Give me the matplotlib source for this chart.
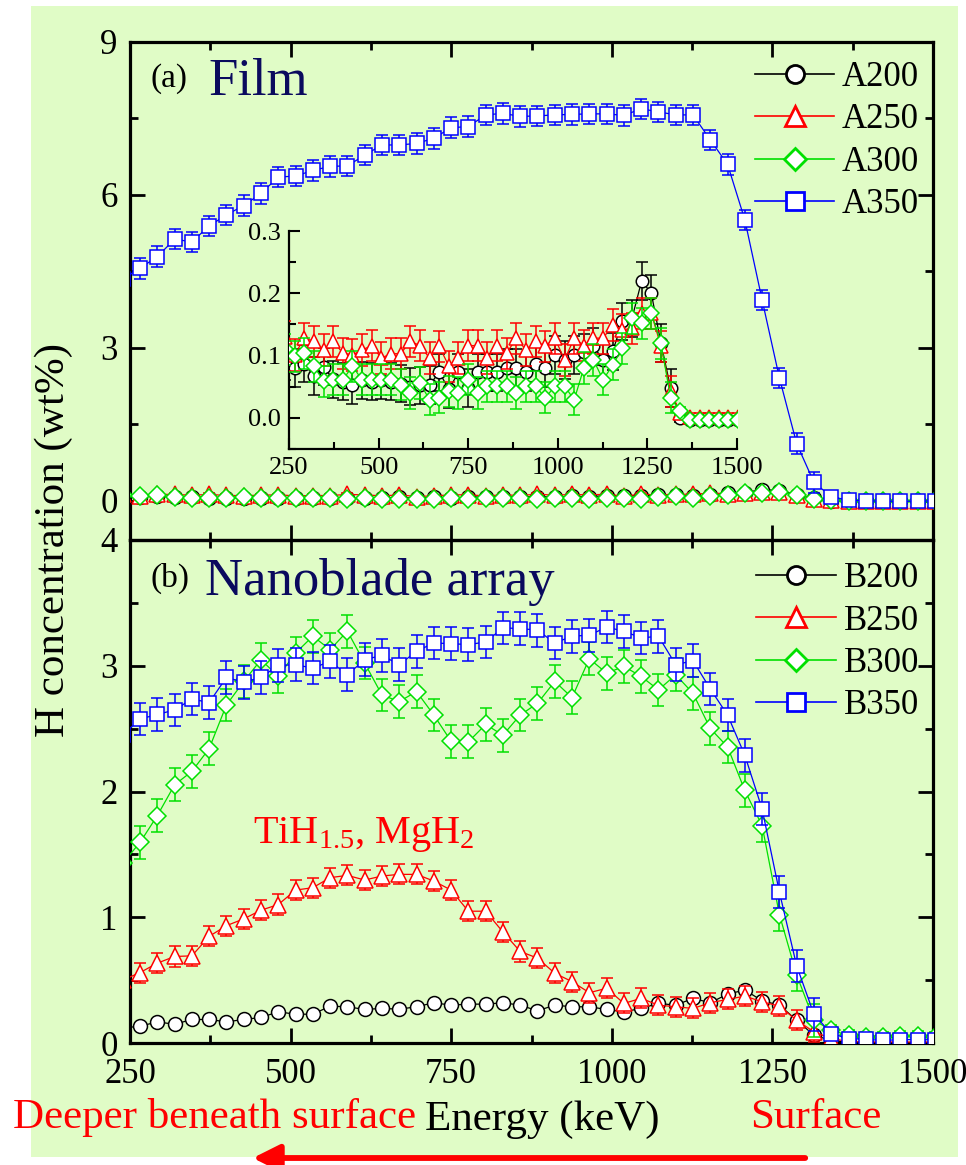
import numpy as np
import matplotlib
matplotlib.use("Agg")
import matplotlib.pyplot as plt
from matplotlib.lines import Line2D
from matplotlib.patches import Rectangle, FancyArrowPatch
from matplotlib.ticker import MultipleLocator, FormatStrFormatter

plt.rcParams['font.family'] = ['Liberation Serif', 'DejaVu Serif']
plt.rcParams['mathtext.fontset'] = 'custom'
plt.rcParams['mathtext.rm'] = 'Liberation Serif'
plt.rcParams['mathtext.default'] = 'regular'

# ---------------- data ----------------
energy = [238.7, 265.6, 292.5, 319.4, 346.3, 373.2, 400.1, 427.0, 453.9, 480.8,
          507.7, 534.6, 561.5, 588.4, 615.3, 642.2, 669.1, 696.0, 722.9, 749.8,
          776.7, 803.6, 830.5, 857.4, 884.3, 911.2, 938.1, 965.0, 991.9, 1018.8,
          1045.7, 1072.6, 1099.5, 1126.4, 1153.3, 1180.2, 1207.1, 1234.0, 1260.9, 1287.8,
          1314.7, 1341.6, 1368.5, 1395.4, 1422.3, 1449.2, 1476.1, 1503.0]

A200 = [0.090, 0.080, 0.087, 0.067, 0.082, 0.062, 0.058, 0.053, 0.060, 0.058,
        0.060, 0.058, 0.055, 0.050, 0.052, 0.053, 0.073, 0.046, 0.073, 0.048,
        0.073, 0.073, 0.073, 0.080, 0.080, 0.073, 0.087, 0.080, 0.101, 0.093,
        0.101, 0.105, 0.115, 0.093, 0.107, 0.155, 0.160, 0.220, 0.200, 0.120,
        0.048, 0.000, -0.003, -0.003, -0.003, -0.003, -0.003, -0.003]
A250 = [0.130, 0.101, 0.128, 0.123, 0.109, 0.123, 0.104, 0.101, 0.109, 0.116,
        0.096, 0.103, 0.103, 0.123, 0.116, 0.096, 0.115, 0.083, 0.096, 0.116,
        0.116, 0.096, 0.116, 0.104, 0.128, 0.109, 0.123, 0.115, 0.128, 0.093,
        0.128, 0.116, 0.128, 0.128, 0.149, 0.141, 0.144, 0.168, 0.168, 0.115,
        0.043, 0.008, 0.002, 0.002, 0.002, 0.002, 0.002, 0.002]
A300 = [0.110, 0.099, 0.104, 0.083, 0.059, 0.061, 0.061, 0.083, 0.061, 0.061,
        0.061, 0.061, 0.053, 0.040, 0.056, 0.029, 0.032, 0.043, 0.040, 0.061,
        0.040, 0.051, 0.051, 0.051, 0.040, 0.051, 0.051, 0.032, 0.051, 0.051,
        0.029, 0.080, 0.093, 0.061, 0.085, 0.112, 0.160, 0.152, 0.168, 0.120,
        0.032, 0.011, -0.003, -0.003, -0.003, -0.003, -0.003, -0.003]
A350 = [4.35, 4.56, 4.79, 5.13, 5.08, 5.39, 5.61, 5.79, 6.03, 6.35,
        6.37, 6.48, 6.56, 6.57, 6.78, 6.98, 6.98, 7.01, 7.11, 7.32,
        7.34, 7.57, 7.60, 7.54, 7.55, 7.57, 7.58, 7.59, 7.59, 7.56,
        7.69, 7.63, 7.57, 7.57, 7.08, 6.60, 5.51, 3.94, 2.41, 1.12,
        0.36, 0.08, 0.01, 0.00, -0.01, -0.01, -0.01, 0.00]

B200 = [0.120, 0.133, 0.168, 0.149, 0.187, 0.187, 0.168, 0.187, 0.203, 0.248,
        0.229, 0.229, 0.293, 0.288, 0.267, 0.275, 0.269, 0.288, 0.320, 0.301,
        0.309, 0.309, 0.320, 0.301, 0.256, 0.301, 0.288, 0.288, 0.267, 0.248,
        0.275, 0.315, 0.301, 0.355, 0.320, 0.389, 0.421, 0.336, 0.301, 0.181,
        0.061, 0.021, 0.005, 0.003, 0.003, 0.003, 0.003, 0.003]
B250 = [0.500, 0.560, 0.635, 0.688, 0.693, 0.848, 0.933, 0.987, 1.056, 1.101,
        1.216, 1.235, 1.315, 1.333, 1.296, 1.328, 1.341, 1.341, 1.288, 1.216,
        1.048, 1.048, 0.883, 0.728, 0.675, 0.555, 0.488, 0.400, 0.435, 0.315,
        0.355, 0.301, 0.288, 0.275, 0.320, 0.347, 0.373, 0.328, 0.293, 0.181,
        0.088, 0.035, 0.012, 0.008, 0.008, 0.008, 0.008, 0.008]
B300 = [1.430, 1.595, 1.808, 2.053, 2.160, 2.341, 2.688, 2.875, 3.048, 2.915,
        3.101, 3.235, 3.128, 3.275, 3.021, 2.768, 2.715, 2.795, 2.608, 2.400,
        2.395, 2.533, 2.448, 2.608, 2.701, 2.875, 2.747, 3.056, 2.941, 2.995,
        2.915, 2.808, 2.928, 2.781, 2.501, 2.355, 2.008, 1.728, 1.021, 0.541,
        0.181, 0.101, 0.061, 0.048, 0.048, 0.053, 0.053, 0.050]
B350 = [2.450, 2.576, 2.613, 2.648, 2.736, 2.707, 2.907, 2.869, 2.907, 3.003,
        3.008, 2.981, 3.035, 2.928, 3.048, 3.083, 3.008, 3.115, 3.181, 3.176,
        3.168, 3.189, 3.301, 3.296, 3.283, 3.181, 3.235, 3.243, 3.307, 3.275,
        3.221, 3.235, 3.008, 3.040, 2.816, 2.608, 2.288, 1.861, 1.200, 0.613,
        0.227, 0.075, 0.035, 0.030, 0.020, 0.027, 0.027, 0.025]

# error-bar half widths (wt%): bulk part (first 41 points) and surface tail
errA200 = [0.03] * 41 + [0.006] * 7
errA250 = [0.025] * 41 + [0.006] * 7
errA300 = [0.025] * 41 + [0.006] * 7
errA350 = [0.20] * 41 + [0.08] * 7
errB200 = [0.02] * 41 + [0.01] * 7
errB250 = [0.08] * 41 + [0.03] * 7
errB300 = [0.13] * 41 + [0.04] * 7
errB350 = [0.13] * 41 + [0.04] * 7

labelsA = ['A200', 'A250', 'A300', 'A350']
labelsB = ['B200', 'B250', 'B300', 'B350']
seriesA = [A200, A250, A300, A350]
seriesB = [B200, B250, B300, B350]
errsA = [errA200, errA250, errA300, errA350]
errsB = [errB200, errB250, errB300, errB350]

# ---------------- style ----------------
BG = '#e0fcc6'
colors = ['#000000', '#ff0000', '#00e000', '#0000ff']
markers = ['o', '^', 'D', 's']
msizes = [10, 11, 9, 10]

W, H = 966, 1165
fig = plt.figure(figsize=(W / 100, H / 100), dpi=100)
fig.patch.set_facecolor('white')
fig.patches.append(Rectangle((31 / W, 1 - 1157 / H), (958 - 31) / W, (1157 - 6) / H,
                             transform=fig.transFigure, facecolor=BG,
                             edgecolor='none', zorder=-10))


def fx(x):
    return x / W


def fy(y):
    return 1 - y / H


def ax_rect(x0, y0, x1, y1):
    return [fx(x0), fy(y1), fx(x1) - fx(x0), fy(y0) - fy(y1)]


ax1 = fig.add_axes(ax_rect(130, 42, 933, 540))
ax2 = fig.add_axes(ax_rect(130, 540, 933, 1043))
axi = fig.add_axes(ax_rect(289, 231, 737, 449))

for ax in (ax1, ax2, axi):
    ax.set_facecolor('none')

x = np.array(energy)


def draw(ax, series, errs, ms_scale=1.0, lw=0.9):
    for k, (ys, e) in enumerate(zip(series, errs)):
        ax.errorbar(x, ys, yerr=e, color=colors[k], ecolor=colors[k],
                    marker=markers[k], ms=msizes[k] * ms_scale, mfc='white',
                    mec=colors[k], mew=1.1, lw=lw, elinewidth=1.1,
                    capsize=4.5 * ms_scale, capthick=1.1, zorder=3 + k)


draw(ax1, seriesA, errsA)
draw(ax2, seriesB, errsB)
draw(axi, seriesA[:3], errsA[:3], ms_scale=0.9)

for ax in (ax1, ax2):
    ax.set_xlim(250, 1500)
    ax.xaxis.set_major_locator(MultipleLocator(250))
    ax.xaxis.set_minor_locator(MultipleLocator(125))
    ax.tick_params(which='both', direction='in', top=True, right=True,
                   width=2.0, labelsize=25, pad=9)
    ax.tick_params(which='major', length=11)
    ax.tick_params(which='minor', length=6)
    for s in ax.spines.values():
        s.set_linewidth(2.3)

ax1.set_ylim(-0.77, 9)
ax1.yaxis.set_major_locator(MultipleLocator(3))
ax1.yaxis.set_minor_locator(MultipleLocator(1.5))
ax1.tick_params(axis='x', labelbottom=False)

ax2.set_ylim(0, 4)
ax2.yaxis.set_major_locator(MultipleLocator(1))
ax2.yaxis.set_minor_locator(MultipleLocator(0.5))
ax2.tick_params(axis='x', pad=11)

# inset
axi.set_xlim(250, 1500)
axi.set_ylim(-0.05, 0.3)
axi.spines['top'].set_visible(False)
axi.spines['right'].set_visible(False)
for s in ('left', 'bottom'):
    axi.spines[s].set_linewidth(1.6)
axi.xaxis.set_major_locator(MultipleLocator(250))
axi.xaxis.set_minor_locator(MultipleLocator(125))
axi.yaxis.set_major_locator(MultipleLocator(0.1))
axi.yaxis.set_minor_locator(MultipleLocator(0.05))
axi.yaxis.set_major_formatter(FormatStrFormatter('%.1f'))
axi.tick_params(which='both', direction='in', width=1.5, labelsize=19, pad=6)
axi.tick_params(which='major', length=8)
axi.tick_params(which='minor', length=5)


# legends
def legend(ax, labels, anchor):
    handles = [Line2D([], [], color=colors[k], lw=1.2, marker=markers[k],
                      ms=msizes[k] * 1.3, mfc='white', mec=colors[k], mew=2.0)
               for k in range(4)]
    ax.legend(handles, labels, loc='upper right', bbox_to_anchor=anchor,
              frameon=False, fontsize=25, handlelength=2.3, handletextpad=0.22,
              labelspacing=0.27, borderaxespad=0.0, borderpad=0.0)


legend(ax1, labelsA, (0.983, 0.962))
legend(ax2, labelsB, (0.983, 0.956))

# texts
navy = '#0a0a5e'
fig.text(fx(150), fy(87), '(a)', fontsize=24, color='black', va='baseline')
fig.text(fx(208), fy(95), 'Film', fontsize=38, color=navy, va='baseline')
fig.text(fx(150), fy(587), '(b)', fontsize=24, color='black', va='baseline')
fig.text(fx(205), fy(595), 'Nanoblade array', fontsize=38, color=navy, va='baseline')
fig.text(fx(253), fy(843), r'TiH$_{1.5}$, MgH$_2$', fontsize=29, color='#ff0000',
         va='baseline')

fig.text(fx(54), fy(540), 'H concentration (wt%)', fontsize=31, rotation=90,
         ha='center', va='center')
fig.text(fx(542), fy(1130), 'Energy (keV)', fontsize=31, ha='center', va='baseline')
fig.text(fx(13), fy(1128), 'Deeper beneath surface', fontsize=31, color='#ff0000',
         va='baseline')
fig.text(fx(750), fy(1128), 'Surface', fontsize=31, color='#ff0000', va='baseline')

fig.patches.append(FancyArrowPatch(
    (fx(808), fy(1158)), (fx(250), fy(1158)), transform=fig.transFigure,
    arrowstyle='-|>,head_length=0.9,head_width=0.45', mutation_scale=18,
    color='#ff0000', lw=4.2))

fig.savefig('out.png', dpi=100, facecolor=fig.get_facecolor())
